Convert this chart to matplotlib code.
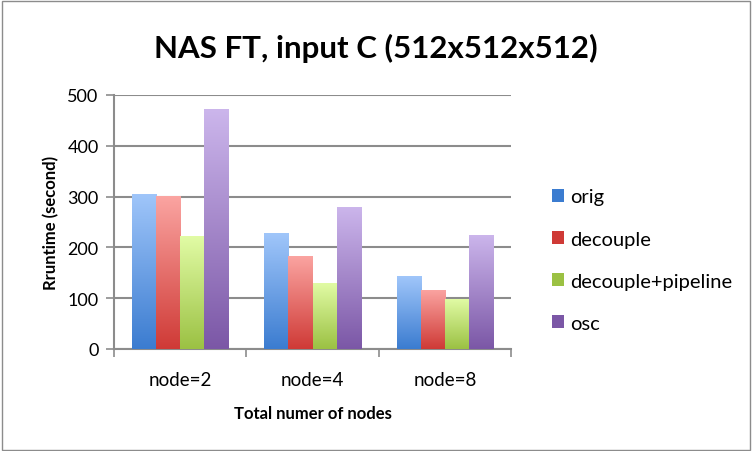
import matplotlib
matplotlib.use("Agg")
import matplotlib.pyplot as plt
import numpy as np
from matplotlib.colors import LinearSegmentedColormap
from matplotlib.patches import Rectangle

categories = ["node=2", "node=4", "node=8"]
series = ["orig", "decouple", "decouple+pipeline", "osc"]
orig = [306, 228, 143]
decouple = [302, 184, 117]
pipeline = [223, 130, 99]
osc = [472, 280, 225]
values = [orig, decouple, pipeline, osc]

# (top, bottom) gradient colours per series
grads = [("#a0c6fa", "#3b7cd0"),
         ("#fba5a2", "#cf3a36"),
         ("#e2fca6", "#9bc143"),
         ("#ccb6ec", "#7b57a6")]

plt.rcParams["font.family"] = ["Lato", "DejaVu Sans"]

fig = plt.figure(figsize=(7.52, 4.52), dpi=100)
ax = fig.add_axes([114 / 752, 1 - 350 / 452, (511 - 114) / 752, (350 - 96) / 452])

x = np.arange(len(categories))
w = 0.182
grad = np.linspace(0, 1, 256).reshape(-1, 1)
for i, (name, vals) in enumerate(zip(series, values)):
    top, bot = grads[i]
    cmap = LinearSegmentedColormap.from_list(name, [bot, top])
    pos = x + (i - 1.5) * w
    bars = ax.bar(pos, vals, width=w, color=bot, label=name, zorder=2)
    for b in bars:
        bx, by = b.get_x(), b.get_y()
        bw, bh = b.get_width(), b.get_height()
        im = ax.imshow(grad, cmap=cmap, origin="lower", aspect="auto",
                       extent=[bx, bx + bw, by, by + bh], zorder=3)
        im.set_clip_path(b)

ax.set_xlim(-0.5, 2.5)
ax.set_ylim(0, 500)
ax.set_yticks(range(0, 501, 100))
ax.set_xticks(x)
ax.set_xticklabels(categories)
ax.set_xticks([-0.5, 0.5, 1.5, 2.5], minor=True)
ax.tick_params(axis="x", which="major", length=0, pad=16, labelsize=13.5)
ax.tick_params(axis="x", which="minor", length=6, width=1.2, color="#8c8c8c")
ax.tick_params(axis="y", length=6, width=1.2, color="#8c8c8c", pad=5, labelsize=13)
ax.grid(axis="y", color="#8c8c8c", linewidth=1.5, zorder=1)
ax.set_axisbelow(True)
for s in ["top", "right"]:
    ax.spines[s].set_visible(False)
for s in ["left", "bottom"]:
    ax.spines[s].set_color("#8c8c8c")
    ax.spines[s].set_linewidth(1.5)

ax.set_xlabel("Total numer of nodes", fontsize=12, fontweight="bold", labelpad=12)
ax.set_ylabel("Rruntime (second)", fontsize=12, fontweight="bold", labelpad=6)
fig.text(0.5, 1 - 48 / 452, "NAS FT, input C (512x512x512)", ha="center", va="center",
         fontsize=22.5, fontweight="bold")

leg = ax.legend(loc="center left", bbox_to_anchor=(1.057, 0.35), frameon=False,
                fontsize=14.5, handlelength=0.6, handleheight=0.6, handletextpad=0.3,
                labelspacing=1.25)
for h, (top, bot) in zip(leg.legend_handles, grads):
    h.set_facecolor(bot)

fig.patches.append(Rectangle((0.002, 0.003), 0.995, 0.993, transform=fig.transFigure,
                             fill=False, edgecolor="#8c8c8c", linewidth=1))

fig.savefig("out.png", dpi=100)
